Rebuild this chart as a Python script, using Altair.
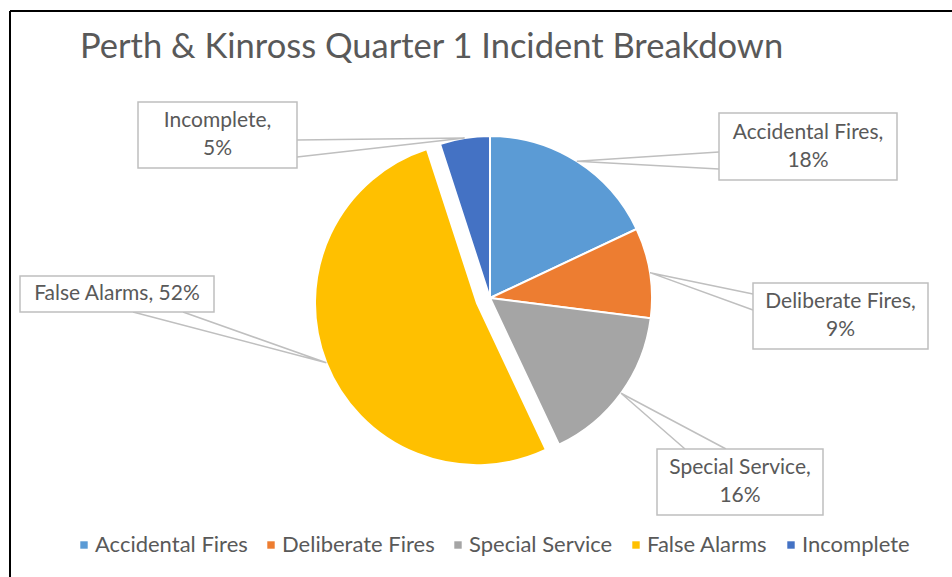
import math
import altair as alt
import pandas as pd

# ---------------- data ----------------
categories = ["Accidental Fires", "Deliberate Fires", "Special Service", "False Alarms", "Incomplete"]
percentages = [18, 9, 16, 52, 5]
label_lines = [
    ["Accidental Fires,", "18%"],
    ["Deliberate Fires,", "9%"],
    ["Special Service,", "16%"],
    ["False Alarms, 52%"],
    ["Incomplete,", "5%"],
]
colors = ["#5B9BD5", "#ED7D31", "#A5A5A5", "#FFC000", "#4472C4"]
title_text = "Perth & Kinross Quarter 1 Incident Breakdown"

# ---------------- layout ----------------
W, H = 952, 577
CX, CY, R = 490, 298, 162
EXPLODED = "False Alarms"
EXPLODE_D = 14
FONT = "Lato"
TEXT_COLOR = "#595959"
BOX_COLOR = "#BFBFBF"
LINE_H = 28

# label boxes: (x1, y1, x2, y2)
boxes = {
    "Accidental Fires": (719, 113, 897, 180),
    "Deliberate Fires": (753, 283, 928, 349),
    "Special Service": (657, 449, 823, 515),
    "False Alarms": (20, 276, 214, 312),
    "Incomplete": (138, 102, 297, 168),
}
# where the callout wedge leaves each box
leader_roots = {
    "Accidental Fires": ((719, 152), (719, 169)),
    "Deliberate Fires": ((753, 294), (753, 310)),
    "Special Service": ((685, 449), (726, 449)),
    "False Alarms": ((133, 312), (183, 312)),
    "Incomplete": ((297, 140), (297, 157)),
}

total = sum(percentages)
pie_df = pd.DataFrame({
    "category": categories,
    "value": percentages,
    "order": list(range(len(categories))),
})

# explode offset of the separated slice, and anchor points on the rim
cum = 0.0
anchors = {}
explode_dx, explode_dy = 0.0, 0.0
for c, v in zip(categories, percentages):
    a0 = cum / total * 2 * math.pi
    cum += v
    a1 = cum / total * 2 * math.pi
    mid = (a0 + a1) / 2
    d = EXPLODE_D if c == EXPLODED else 0
    if c == EXPLODED:
        explode_dx = d * math.sin(mid)
        explode_dy = -d * math.cos(mid)
    anchors[c] = (CX + (R + d) * math.sin(mid), CY - (R + d) * math.cos(mid))

# ---------------- pie ----------------
base = alt.Chart(pie_df).encode(
    theta=alt.Theta("value:Q", stack=True),
    order=alt.Order("order:Q"),
)

pie_main = base.mark_arc(radius=R, stroke="white", strokeWidth=2).encode(
    x=alt.value(CX),
    y=alt.value(CY),
    color=alt.Color(
        "category:N",
        scale=alt.Scale(domain=categories, range=colors),
        legend=alt.Legend(
            title=None,
            orient="none",
            direction="horizontal",
            legendX=73,
            legendY=534,
            symbolType="square",
            symbolSize=55,
            symbolStrokeWidth=0,
            labelFont=FONT,
            labelFontSize=22,
            labelColor=TEXT_COLOR,
            labelOffset=0,
            columnPadding=12,
        ),
    ),
    opacity=alt.condition(alt.datum.category == EXPLODED, alt.value(0), alt.value(1)),
)

pie_explode = base.mark_arc(radius=R, stroke="white", strokeWidth=2).encode(
    x=alt.value(CX + explode_dx),
    y=alt.value(CY + explode_dy),
    color=alt.Color("category:N", scale=alt.Scale(domain=categories, range=colors), legend=None),
    opacity=alt.condition(alt.datum.category == EXPLODED, alt.value(1), alt.value(0)),
)

# ---------------- callouts ----------------
leader_rows = []
box_rows = []
for c, lines in zip(categories, label_lines):
    (p1, p2) = leader_roots[c]
    ax, ay = anchors[c]
    leader_rows += [
        {"category": c, "seq": 0, "px": p1[0], "py": p1[1]},
        {"category": c, "seq": 1, "px": ax, "py": ay},
        {"category": c, "seq": 2, "px": p2[0], "py": p2[1]},
    ]
    x1, y1, x2, y2 = boxes[c]
    box_rows.append({
        "category": c, "x1": x1, "y1": y1, "x2": x2, "y2": y2,
        "tx": (x1 + x2) / 2,
        "ty": (y1 + y2) / 2 - (len(lines) - 1) * LINE_H / 2,
        "label": lines,
    })
leader_df = pd.DataFrame(leader_rows)
box_df = pd.DataFrame(box_rows)

leaders = alt.Chart(leader_df).mark_line(color=BOX_COLOR, strokeWidth=1.5).encode(
    x=alt.X("px:Q", scale=None),
    y=alt.Y("py:Q", scale=None),
    detail="category:N",
    order="seq:Q",
)

label_boxes = alt.Chart(box_df).mark_rect(fill="white", stroke=BOX_COLOR, strokeWidth=1.5).encode(
    x=alt.X("x1:Q", scale=None),
    x2="x2:Q",
    y=alt.Y("y1:Q", scale=None),
    y2="y2:Q",
)

label_text = alt.Chart(box_df).mark_text(
    font=FONT, fontSize=21, color=TEXT_COLOR, align="center", baseline="middle", lineHeight=LINE_H
).encode(
    x=alt.X("tx:Q", scale=None),
    y=alt.Y("ty:Q", scale=None),
    text="label",
)

# ---------------- title & frame ----------------
title = alt.Chart(pd.DataFrame({"t": [title_text]})).mark_text(
    font=FONT, fontSize=34.5, color=TEXT_COLOR, align="left", baseline="alphabetic"
).encode(x=alt.value(80), y=alt.value(58), text="t:N")

frame_top = alt.Chart(pd.DataFrame({"k": [0]})).mark_rule(color="black", strokeWidth=2).encode(
    x=alt.value(10), x2=alt.value(W), y=alt.value(11)
)
frame_left = alt.Chart(pd.DataFrame({"k": [0]})).mark_rule(color="black", strokeWidth=2).encode(
    x=alt.value(10), y=alt.value(11), y2=alt.value(H)
)

chart = alt.layer(
    frame_top, frame_left, title,
    pie_main, pie_explode,
    leaders, label_boxes, label_text,
).properties(
    width=W, height=H, padding=0, autosize=alt.AutoSizeParams(type="none"),
    background="white",
).configure_view(stroke=None)

chart.save("out.html", embed_options={"renderer": "svg", "actions": False})
